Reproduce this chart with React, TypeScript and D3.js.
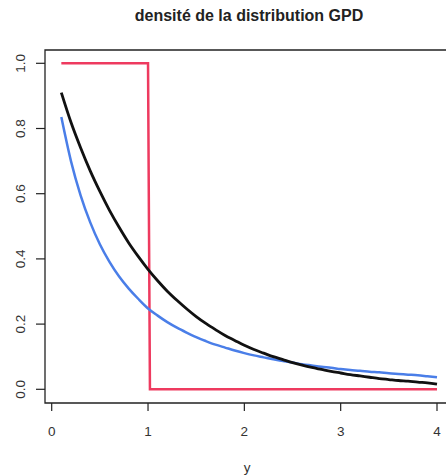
import React from "react";
import * as d3 from "d3";

const xs = [0.1,0.2,0.3,0.4,0.5,0.6,0.7,0.8,0.9,1.0,1.1,1.2,1.3,1.4,1.5,1.6,1.7,1.8,1.9,2.0,2.1,2.2,2.3,2.4,2.5,2.6,2.7,2.8,2.9,3.0,3.1,3.2,3.3,3.4,3.5,3.6,3.7,3.8,3.9,4.0];
const blackVals = [0.91,0.819,0.741,0.670,0.607,0.549,0.497,0.449,0.407,0.368,0.333,0.301,0.273,0.247,0.223,0.202,0.183,0.165,0.150,0.135,0.122,0.111,0.100,0.091,0.082,0.074,0.067,0.061,0.055,0.050,0.045,0.041,0.037,0.033,0.030,0.027,0.025,0.022,0.020,0.016];
const blueVals = [0.835,0.70,0.595,0.512,0.445,0.391,0.346,0.309,0.277,0.248,0.226,0.206,0.189,0.174,0.160,0.148,0.137,0.128,0.119,0.111,0.104,0.098,0.092,0.087,0.082,0.077,0.073,0.069,0.066,0.062,0.059,0.057,0.054,0.052,0.049,0.047,0.045,0.043,0.040,0.037];
const redX = [0.1, 1.0, 1.02, 4.0];
const redVals = [1, 1, 0, 0];
const xTicks = [0, 1, 2, 3, 4];
const yTicks = [0, 0.2, 0.4, 0.6, 0.8, 1.0];

export default function App() {
  const W = 446, H = 476;
  const x = d3.scaleLinear().domain([0, 4]).range([51.7, 437]);
  const y = d3.scaleLinear().domain([0, 1]).range([389.3, 63.3]);
  const left = 45, top = 50, bottom = 403, right = 447;
  const line = d3.line<[number, number]>().x(d => x(d[0])).y(d => y(d[1])).curve(d3.curveMonotoneX);
  const lin = d3.line<[number, number]>().x(d => x(d[0])).y(d => y(d[1]));
  const black = xs.map((v, i) => [v, blackVals[i]] as [number, number]);
  const blue = xs.map((v, i) => [v, blueVals[i]] as [number, number]);
  const red = redX.map((v, i) => [v, redVals[i]] as [number, number]);
  const font = "Liberation Sans, Arial, Helvetica, sans-serif";
  return (
    <svg width={W} height={H} style={{ position: "absolute", left: 0, top: 0, background: "#fff" }} fontFamily={font}>
      <rect width={W} height={H} fill="#fff" />
      <text x={249} y={21} textAnchor="middle" fontSize={16} fontWeight="bold" fill="#222">densité de la distribution GPD</text>
      <path d={`M${right},${top}H${left}V${bottom}H${right}`} fill="none" stroke="#222" strokeWidth={1.3} />
      {yTicks.map(t => (
        <g key={"y" + t}>
          <line x1={left} x2={36} y1={y(t)} y2={y(t)} stroke="#222" strokeWidth={1.2} />
          <text transform={`translate(25,${y(t)}) rotate(-90)`} textAnchor="middle" fontSize={13.5} fill="#333">{t.toFixed(1)}</text>
        </g>
      ))}
      {xTicks.map(t => (
        <g key={"x" + t}>
          <line x1={x(t)} x2={x(t)} y1={bottom} y2={411} stroke="#222" strokeWidth={1.2} />
          <text x={x(t)} y={436} textAnchor="middle" fontSize={13.5} fill="#333">{t}</text>
        </g>
      ))}
      <text x={247} y={472} textAnchor="middle" fontSize={13.5} fill="#333">y</text>
      <path d={lin(red) || ""} fill="none" stroke="#ee3a5f" strokeWidth={2.5} />
      <path d={line(blue) || ""} fill="none" stroke="#4a7ee8" strokeWidth={2.5} />
      <path d={line(black) || ""} fill="none" stroke="#111" strokeWidth={2.8} />
    </svg>
  );
}
